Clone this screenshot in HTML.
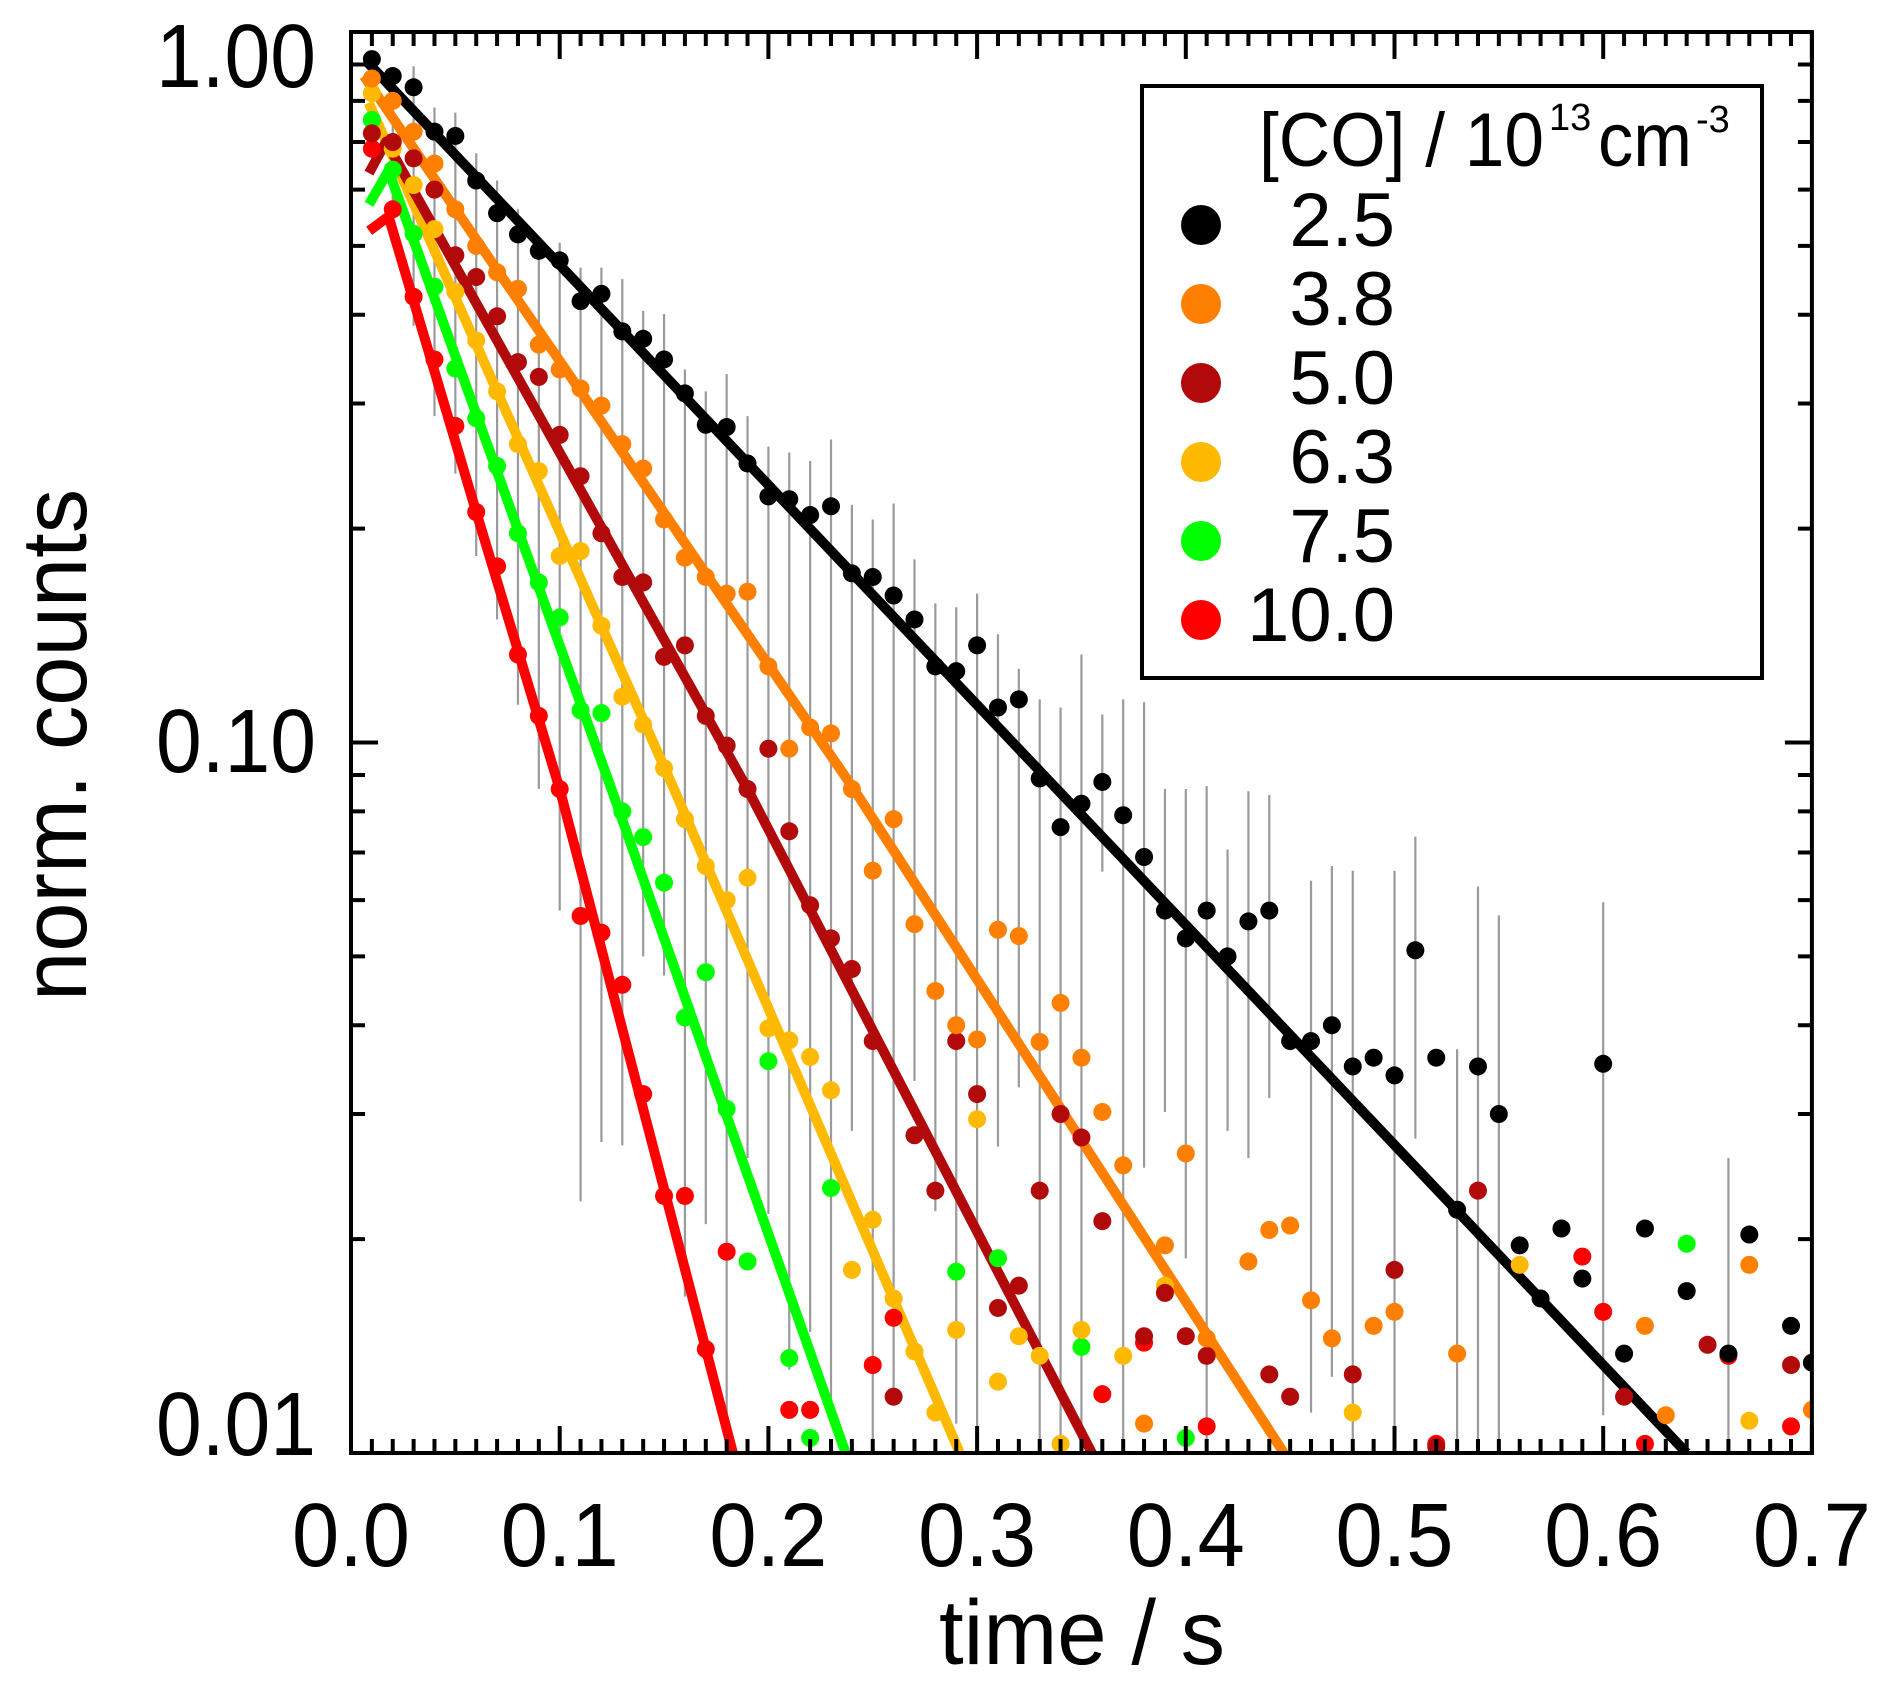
<!DOCTYPE html>
<html><head><meta charset="utf-8"><style>
html,body{margin:0;padding:0;background:#fff;}
svg{display:block;font-family:"Liberation Sans",Arial,sans-serif;}
</style></head><body>
<svg id="chart" width="1892" height="1683" viewBox="0 0 1892 1683" xmlns="http://www.w3.org/2000/svg">
<defs><clipPath id="plotclip"><rect x="351" y="32" width="1461" height="1421"/></clipPath></defs>
<g id="bars" clip-path="url(#plotclip)"></g>
<g id="fits" clip-path="url(#plotclip)"></g>
<g id="pts" clip-path="url(#plotclip)"></g>
<g id="axes"></g>
<g id="legend">
<rect x="1142" y="86" width="620" height="592" fill="#fff" stroke="#000" stroke-width="4"/>
<text x="1259" y="166" font-size="76" textLength="285" lengthAdjust="spacingAndGlyphs">[CO] / 10</text>
<text x="1549" y="130" font-size="38">13</text>
<text x="1598" y="166" font-size="76" textLength="94" lengthAdjust="spacingAndGlyphs">cm</text>
<text x="1696" y="132" font-size="38">-3</text>
</g>
</svg>
<script>
const times = [0.01,0.02,0.03,0.04,0.05,0.06,0.07,0.08,0.09,0.10,0.11,0.12,0.13,0.14,0.15,0.16,0.17,0.18,0.19,0.20,0.21,0.22,0.23,0.24,0.25,0.26,0.27,0.28,0.29,0.30,0.31,0.32,0.33,0.34,0.35,0.36,0.37,0.38,0.39,0.40,0.41,0.42,0.43,0.44,0.45,0.46,0.47,0.48,0.49,0.50,0.51,0.52,0.53,0.54,0.55,0.56,0.57,0.58,0.59,0.60,0.61,0.62,0.63,0.64,0.65,0.66,0.67,0.68,0.69,0.70];
const seriesNames = ["2.5","3.8","5.0","6.3","7.5","10.0"];
const seriesColors = ["#000000","#ff8000","#b20a0a","#ffb900","#00ff00","#ff0000"];
const black = [.916,.867,.836,.724,.714,.618,.556,.519,.492,.477,.418,.428,.379,.370,.346,.310,.280,.278,.247,.222,.220,.209,.215,.173,.171,.161,.149,.128,.126,.137,.112,.115,.089,.076,.082,.088,.079,.069,.058,.053,.058,.050,.056,.058,.038,.038,.040,.035,.036,.034,.051,.036,.022,.035,.030,.0196,.0165,.0207,.0176,.0353,.0138,.0207,null,.0169,null,.0138,.0203,null,.0151,.0134];
const orange = [.86,.80,.724,.653,.563,.50,.459,.435,.363,.335,.315,.298,.263,.243,.206,.182,.171,.162,.163,.128,.098,.105,.103,.086,.066,.078,.0555,.0447,.040,.0382,.0545,.0534,.0379,.043,.036,.0302,.0254,.011,.0196,.0264,.0145,null,.0186,.0206,.0209,.0164,.0145,null,.0151,.0158,null,null,.0138,null,null,null,null,null,null,null,null,.0151,.0113,null,null,null,.0184,null,null,.0115];
const darkred = [.72,.70,.664,.60,.485,.452,.398,.343,.327,.271,.237,.197,.171,.168,.132,.137,.109,.099,.086,.098,.075,.059,.053,.048,.038,.012,.028,.0234,.038,.032,.016,.0172,.0234,.030,.0278,.0212,null,.0146,.0168,.0146,.0137,null,null,.0129,.012,null,null,.0129,null,.0181,null,.0102,null,.0234,null,null,null,null,null,null,.012,null,null,null,.0142,null,null,null,.0133,null];
const yellow = [.82,.685,.609,.528,.431,.368,.312,.263,.241,.183,.186,.146,.116,.106,.092,.078,.067,.060,.0645,.0396,.0381,.0361,.0324,.0181,.0213,.0165,.0139,.0114,.0149,.0295,.0126,.0146,.0137,.0103,.0149,null,.0137,null,.0172,null,null,null,null,null,null,null,null,.0114,null,null,null,null,null,null,null,.0184,null,null,null,null,null,null,null,null,null,null,.0111,null,null,null];
const green = [.752,.64,.52,.438,.336,.286,.245,.197,.168,.150,.111,.110,.080,.0736,.0635,.041,.0475,.0305,.0186,.0356,.0136,.0105,.0236,null,null,null,null,null,.018,null,.0188,null,null,null,.0141,null,null,null,null,.0105,null,null,null,null,null,null,null,null,null,null,null,null,null,null,null,null,null,null,null,null,null,null,null,.0197,null,null,null,null,null,null];
const red = [.685,.563,.424,.346,.279,.211,.177,.133,.109,.086,.057,.054,.0456,.032,.023,.023,.014,.0192,null,null,.0115,.0115,null,null,.0133,.0155,null,null,null,null,null,null,null,null,null,.0121,null,.0143,null,null,.0109,null,null,null,null,null,null,null,null,null,null,.0103,null,null,null,null,null,null,.0189,.0158,null,.0103,null,null,null,.0137,null,null,.0109,null];
const fitBlackT = [0.0075,0.64], fitBlackY = [0.909,0.01];
const fitOrangeT = [0.0062,0.24,0.447], fitOrangeY = [0.867,0.0868,0.01];
const fitDarkredT = [0.0086,0.0168,0.19,0.355], fitDarkredY = [0.633,0.701,0.086,0.01];
const fitYellowT = [0.0085,0.155,0.2917], fitYellowY = [0.795,0.0857,0.01];
const fitGreenT = [0.0086,0.018,0.1248,0.237], fitGreenY = [0.572,0.638,0.086,0.01];
const fitRedT = [0.0087,0.018,0.06,0.10,0.183], fitRedY = [0.525,0.55,0.211,0.086,0.01];
const errT = [.02,.03,.04,.05,.06,.07,.08,.09,.10,.11,.12,.13,.14,.15,.16,.17,.18,.19,.20,.21,.22,.23,.24,.25,.26,.27,.28,.29,.30,.31,.32,.33,.34,.35,.36,.37,.38,.39,.40,.41,.42,.43,.44,.46,.47,.48,.50,.51,.53,.54,.55,.60,.66];
const errLo = [.541,.386,.288,.239,.183,.149,.113,.086,.058,.0226,.0274,.0271,.050,.047,.0166,.021,.009,.026,.0217,.0131,.0148,.011,.0284,.009,.0119,.0334,.0219,.011,.009,.027,.0327,.009,.009,.0107,.0658,.009,.0252,.0302,.0188,.009,.0284,.026,.0316,.0114,.0128,.009,.0109,.0277,.009,.009,.009,.0113,.009];
const errHi = [.874,.895,.783,.77,.675,.618,.563,.512,.505,.466,.466,.449,.405,.401,.335,.312,.33,.288,.261,.256,.249,.267,.216,.206,.217,.181,.157,.155,.162,.142,.127,.115,.112,.133,.1095,.115,.114,.086,.086,.0868,.0707,.0854,.0844,.0639,.067,.066,.066,.0737,.037,.0627,.0571,.0596,.026];
const xTicks = [0,0.1,0.2,0.3,0.4,0.5,0.6,0.7];
const xTickLabels = ["0.0","0.1","0.2","0.3","0.4","0.5","0.6","0.7"];
const yTicks = [1,0.1,0.01];
const yTickLabels = ["1.00","0.10","0.01"];

const NS = "http://www.w3.org/2000/svg";
const X0 = 351, PX = 2087, Y0 = 32, DEC = 710.5;
function sx(t){ return X0 + t*PX; }
function sy(v){ return Y0 - Math.log10(v)*DEC; }
function mk(tag, attrs, parent){ const e = document.createElementNS(NS, tag); for (const k in attrs) e.setAttribute(k, attrs[k]); parent.appendChild(e); return e; }

const bars = document.getElementById('bars');
errT.forEach((t,i)=>{
  const l = mk('line',{x1:sx(t),x2:sx(t),y1:sy(errHi[i]),y2:sy(errLo[i]),stroke:'#9a9a9a','stroke-width':2.2},bars);
  
  
});

const fits = document.getElementById('fits');
const fitSets = [[fitBlackT,fitBlackY],[fitOrangeT,fitOrangeY],[fitDarkredT,fitDarkredY],[fitYellowT,fitYellowY],[fitGreenT,fitGreenY],[fitRedT,fitRedY]];
for (let s=fitSets.length-1; s>=0; s--){
  const [T,Y] = fitSets[s];
  const p = mk('polyline',{points:T.map((t,i)=>sx(t)+','+sy(Y[i])).join(' '),fill:'none',stroke:seriesColors[s],'stroke-width':10,'stroke-linejoin':'round'},fits);
  
  
}

const pts = document.getElementById('pts');
const allSeries = [black,orange,darkred,yellow,green,red];
for (let s=allSeries.length-1; s>=0; s--){
  allSeries[s].forEach((v,i)=>{
    if (v===null) return;
    const c = mk('circle',{cx:sx(times[i]),cy:sy(v),r:9,fill:seriesColors[s]},pts);
    
    
  });
}

const axes = document.getElementById('axes');
const XR = sx(0.7), YB = sy(0.01);
const frame = mk('rect',{x:X0,y:Y0,width:XR-X0,height:YB-Y0,fill:'none',stroke:'#000','stroke-width':4},axes);


let tk = '';
for (let i=0;i<=70;i++){
  const x = sx(i/100), L = (i%10===0)?27:14;
  tk += `M${x},${YB}v${-L}M${x},${Y0}v${L}`;
}
for (const dec of [0.01,0.1]){
  for (let m=1;m<=10;m++){
    const v = dec*m; const y = sy(v); const L = (m===1||m===10)?27:14;
    tk += `M${X0},${y}h${L}M${XR},${y}h${-L}`;
  }
}
const ticks = mk('path',{d:tk,stroke:'#000','stroke-width':4,fill:'none'},axes);



xTicks.forEach((t,i)=>{
  const tx = mk('text',{x:sx(t),y:1566,'font-size':90,'text-anchor':'middle',textLength:118,lengthAdjust:'spacingAndGlyphs'},axes);
  tx.textContent = xTickLabels[i];
  
  
});
const yBase = [87,772,1455];
yTicks.forEach((v,i)=>{
  const tx = mk('text',{x:316,y:yBase[i],'font-size':90,'text-anchor':'end',textLength:160,lengthAdjust:'spacingAndGlyphs'},axes);
  tx.textContent = yTickLabels[i];
  
  
});
const xt = mk('text',{x:1082,y:1664,'font-size':92,'text-anchor':'middle',textLength:286,lengthAdjust:'spacingAndGlyphs'},axes);
xt.textContent = 'time / s';


const yt = mk('text',{x:0,y:0,'font-size':92,'text-anchor':'middle',textLength:512,lengthAdjust:'spacingAndGlyphs',transform:'translate(86,745) rotate(-90)'},axes);
yt.textContent = 'norm. counts';



const legend = document.getElementById('legend');
const legY = [225,304,383,462,541,620];
seriesNames.forEach((n,i)=>{
  const g = mk('g',{},legend);
  
  
  mk('circle',{cx:1201,cy:legY[i],r:20,fill:seriesColors[i]},g);
  const t = mk('text',{x:1395,y:legY[i]+21,'font-size':76,'text-anchor':'end'},g);
  t.textContent = n;
});
</script>
</body></html>
